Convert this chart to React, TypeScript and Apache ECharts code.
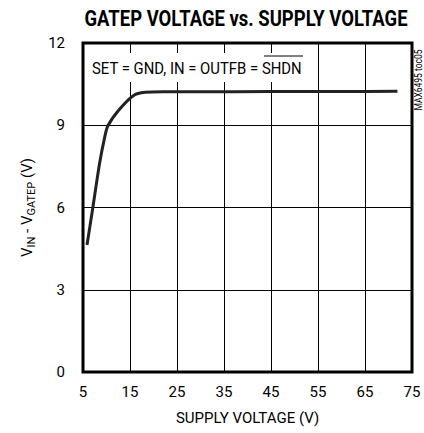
import React, { useEffect, useRef } from "react";
import * as echarts from "echarts";

const supplyVoltage = [5.85, 7.13, 8.55, 9.6, 10.3, 12.5, 15.7, 18.2, 22.1, 30, 45, 60, 71.9];
const gatepVoltage = [4.63, 6.04, 7.63, 8.55, 8.98, 9.53, 10.08, 10.2, 10.22, 10.22, 10.23, 10.23, 10.24];
const xTicks = [5, 15, 25, 35, 45, 55, 65, 75];
const yTicks = [0, 3, 6, 9, 12];

const FONT = "Roboto, 'Liberation Sans', sans-serif";

export default function App() {
  const ref = useRef<HTMLDivElement>(null);
  useEffect(() => {
    if (!ref.current) return;
    const chart = echarts.init(ref.current, null, { renderer: "svg" });
    const data = supplyVoltage.map((x, i) => [x, gatepVoltage[i]]);
    chart.setOption({
      animation: false,
      backgroundColor: "#fff",
      textStyle: { fontFamily: FONT },
      grid: {
        left: 83,
        right: 12,
        top: 43,
        bottom: 61,
        show: true,
        borderColor: "#000",
        borderWidth: 3,
        backgroundColor: "transparent",
      },
      xAxis: {
        type: "value",
        min: xTicks[0],
        max: xTicks[xTicks.length - 1],
        interval: 10,
        name: "SUPPLY VOLTAGE (V)",
        nameLocation: "middle",
        nameGap: 38,
        nameTextStyle: { fontFamily: FONT, fontSize: 15, color: "#000" },
        axisLine: { show: false },
        axisTick: { show: false },
        axisLabel: { fontFamily: FONT, fontSize: 15, color: "#000", margin: 12 },
        splitLine: { show: true, lineStyle: { color: "#000", width: 1 } },
      },
      yAxis: {
        type: "value",
        min: yTicks[0],
        max: yTicks[yTicks.length - 1],
        interval: 3,
        name: "{v|V}{s|IN}{v| - V}{s|GATEP}{v| (V)}",
        nameLocation: "middle",
        nameGap: 42,
        nameRotate: 90,
        nameTextStyle: {
          fontFamily: FONT,
          color: "#000",
          rich: {
            v: { fontFamily: FONT, fontSize: 15, color: "#000", lineHeight: 20, verticalAlign: "bottom" },
            s: { fontFamily: FONT, fontSize: 11, color: "#000", lineHeight: 20, verticalAlign: "bottom", padding: [0, 0, -3, 0] },
          },
        },
        axisLine: { show: false },
        axisTick: { show: false },
        axisLabel: { fontFamily: FONT, fontSize: 15, color: "#000", margin: 18 },
        splitLine: { show: true, lineStyle: { color: "#000", width: 1 } },
      },
      series: [
        {
          type: "line",
          data,
          smooth: 0.3,
          showSymbol: false,
          lineStyle: { color: "#222", width: 3 },
          z: 5,
        },
      ],
      graphic: [
        {
          type: "text",
          x: 246,
          y: 18,
          scaleX: 0.84,
          style: {
            text: "GATEP VOLTAGE vs. SUPPLY VOLTAGE",
            fontFamily: FONT,
            fontWeight: "bold",
            fontSize: 22,
            fill: "#000",
            align: "center",
            verticalAlign: "middle",
          },
        },
        {
          type: "rect",
          shape: { x: 85, y: 53, width: 226, height: 29 },
          style: { fill: "#fff" },
          z: 10,
        },
        {
          type: "text",
          x: 92,
          y: 68,
          scaleX: 0.875,
          style: {
            text: "SET = GND, IN = OUTFB = SHDN",
            fontFamily: FONT,
            fontSize: 17,
            fill: "#000",
            verticalAlign: "middle",
          },
          z: 11,
        },
        {
          type: "line",
          shape: { x1: 264, y1: 56, x2: 303, y2: 56 },
          style: { stroke: "#000", lineWidth: 1 },
          z: 11,
        },
        {
          type: "text",
          x: 418,
          y: 80,
          rotation: Math.PI / 2,
          scaleX: 0.85,
          style: {
            text: "MAX6495 toc05",
            fontFamily: FONT,
            fontSize: 10,
            fill: "#000",
            align: "center",
            verticalAlign: "middle",
          },
          z: 11,
        },
      ],
    });
    return () => chart.dispose();
  }, []);
  return <div ref={ref} style={{ width: 424, height: 433, position: "absolute", left: 0, top: 0 }} />;
}
